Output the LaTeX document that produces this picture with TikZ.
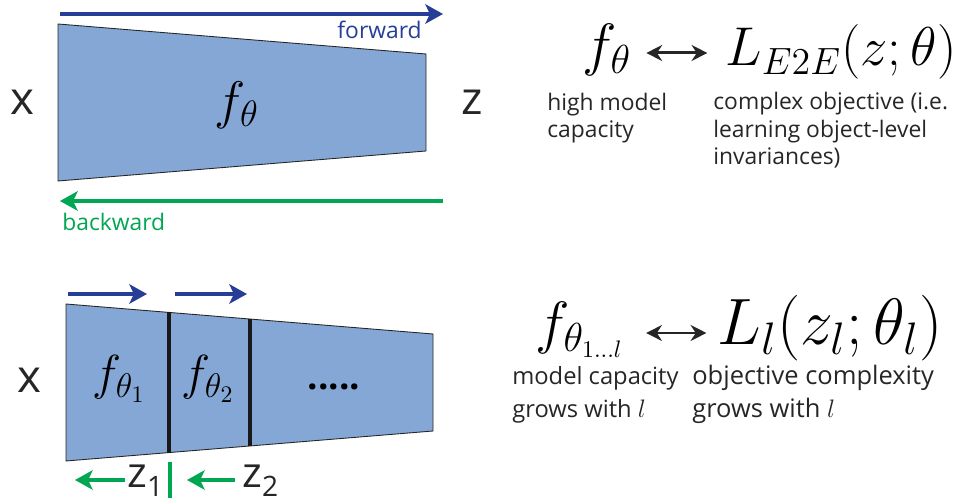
\documentclass[tikz,border=0pt]{standalone}
\usepackage{fontspec}
\setsansfont{Open Sans}
\usepackage{tikz}
\usetikzlibrary{arrows.meta, positioning, calc}
\definecolor{azulCamada}{RGB}{132,167,213}
\definecolor{azulFrente}{RGB}{38,62,150}
\definecolor{verdeTras}{RGB}{0,166,81}
\newcommand{\sublabel}[2]{#1\raisebox{-0.2em}{\fontsize{16}{16}\selectfont #2}}

\begin{document}
\begin{tikzpicture}[
    x=0.02cm, y=-0.02cm,
    layer/.style={draw=black!85, fill=azulCamada, line width=0.5pt},
    cut/.style={line width=2.2pt, draw=black!90},
    fwd/.style={line width=2.2pt, draw=azulFrente, -{Stealth[length=10pt, width=11pt, inset=2.5pt]}},
    bwd/.style={line width=2.2pt, draw=verdeTras, -{Stealth[length=10pt, width=11pt, inset=2.5pt]}},
    pair/.style={line width=1.7pt, draw=black!85, {Stealth[length=9pt, width=9pt]}-{Stealth[length=9pt, width=9pt]}},
    io/.style={font=\sffamily\fontsize{26}{30}\selectfont, text=black!85, inner sep=0pt, anchor=base},
    flow/.style={font=\sffamily\fontsize{13}{15}\selectfont, inner sep=0pt},
    inmath/.style={font=\fontsize{20}{24}\selectfont, scale=1.45, inner sep=0pt, anchor=base},
    formula/.style={font=\fontsize{20}{24}\selectfont, scale=1.5, inner sep=0pt},
    note/.style={font=\sffamily\fontsize{13}{15.9}\selectfont, text=black!85, align=left, inner sep=0pt, anchor=base west}
]
    \useasboundingbox (0,0) rectangle (956,502);

    % Rede inteira (end-to-end)
    \coordinate (a1) at (58,24);
    \coordinate (a2) at (426,54);
    \coordinate (a3) at (426,151);
    \coordinate (a4) at (58,181);
    \draw[layer] (a1) -- (a2) -- (a3) -- (a4) -- cycle;
    \node[inmath] (fTheta) at (237,119) {$f_\theta$};
    \node[io] (xTop) at (22,115) {x};
    \node[io] (zTop) at (472,115) {z};

    \coordinate (fwdStart) at (60,14);
    \coordinate (fwdEnd) at (443,14);
    \draw[fwd] (fwdStart) -- (fwdEnd);
    \node[flow, text=azulFrente, anchor=base east] (fwdLabel) at (422,39) {forward};

    \coordinate (bwdStart) at (443,201);
    \coordinate (bwdEnd) at (60,201);
    \draw[bwd] (bwdStart) -- (bwdEnd);
    \node[flow, text=verdeTras, anchor=base west] (bwdLabel) at (62,231) {backward};

    % Formula E2E
    \node[formula, scale=1.6/1.5, anchor=base west] (fTop) at (582,65) {$f_\theta$};
    \node[formula, anchor=base west] (lTop) at (725,66) {$L_{E2E}(z;\theta)$};
    \draw[pair] ([xshift=8pt]fTop.east |- 0,53) -- ([xshift=-10pt]lTop.west |- 0,53);
    \node[note] (capTop) at (547,138) {high model\\capacity};
    \node[note] (objTop) at (713,165) {complex objective (i.e.\\learning object-level\\invariances)};

    % Rede em camadas
    \coordinate (b1) at (66,304);
    \coordinate (b2) at (433,334);
    \coordinate (b3) at (433,431);
    \coordinate (b4) at (66,461);
    \draw[layer] (b1) -- (b2) -- (b3) -- (b4) -- cycle;
    \draw[cut] ($(b1)!0.2807!(b2)$) -- ($(b4)!0.2807!(b3)$);
    \draw[cut] ($(b1)!0.5014!(b2)$) -- ($(b4)!0.5014!(b3)$);
    \node[inmath, scale=1.35/1.45] (fOne) at (119,390) {$f_{\theta_1}$};
    \node[inmath, scale=1.35/1.45] (fTwo) at (208,390) {$f_{\theta_2}$};
    \node[font=\sffamily\bfseries\fontsize{21}{24}\selectfont, inner sep=0pt] (dots) at (334,387) {.....};
    \node[io] (xBot) at (29,393) {x};

    \coordinate (s1Start) at (68,294);
    \coordinate (s1End) at (147,294);
    \coordinate (s2Start) at (175,294);
    \coordinate (s2End) at (247,294);
    \draw[fwd] (s1Start) -- (s1End);
    \draw[fwd] (s2Start) -- (s2End);

    \node[io, font=\sffamily\fontsize{24}{28}\selectfont, anchor=base west] (zOne) at (127,488) {\sublabel{z}{1}};
    \node[io, font=\sffamily\fontsize{24}{28}\selectfont, anchor=base west] (zTwo) at (242,488) {\sublabel{z}{2}};
    \coordinate (gate) at (170,462);
    \coordinate (gateEnd) at (170,498);
    \draw[line width=2.2pt, draw=verdeTras] (gate) -- (gateEnd);
    \draw[bwd] (zOne.west |- 0,480) ++(-2,0) -- (75,480);
    \draw[bwd] (zTwo.west |- 0,480) ++(-7,0) -- (187,480);

    % Formula local
    \node[formula, scale=1.6/1.5, anchor=base west] (fBot) at (535,343) {$f_{\theta_{\scalebox{0.85}{$\scriptscriptstyle 1\ldots l$}}}$};
    \node[formula, scale=1.8/1.5, anchor=base west] (lBot) at (717,345) {$L_l(z_l;\theta_l)$};
    \draw[pair] ([xshift=12pt]fBot.east |- 0,333) -- ([xshift=-6pt]lBot.west |- 0,333);
    \node[note, font=\sffamily\fontsize{13.5}{19}\selectfont] (capBot) at (512,418) {model capacity\\grows with $l$};
    \node[note, font=\sffamily\fontsize{14.5}{19}\selectfont] (objBot) at (692,418) {objective complexity\\grows with $l$};
\end{tikzpicture}
\end{document}
